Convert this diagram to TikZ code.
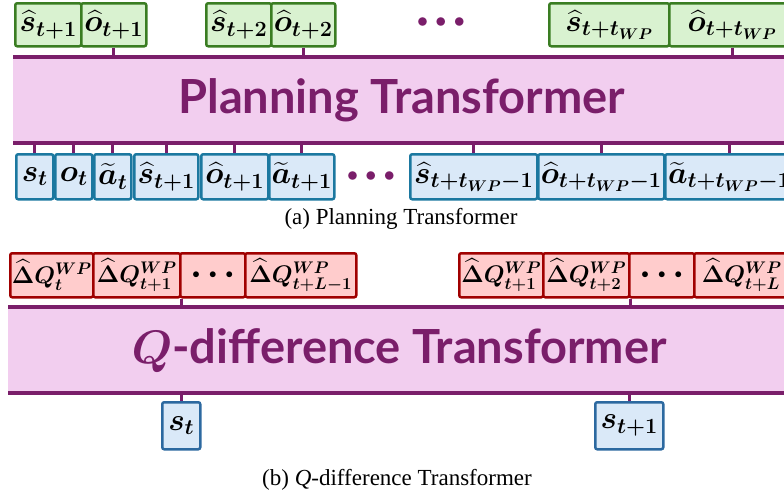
\RequirePackage{fix-cm}
\documentclass[tikz,border=0pt]{standalone}
\usepackage{amsmath,bm}
\usepackage{fontspec}
\newfontfamily\barsans{Lato}
\newfontfamily\capserif{Liberation Serif}
\definecolor{GreenFill}{HTML}{D9F2D0}
\definecolor{GreenLine}{HTML}{3A7D22}
\definecolor{BlueFill}{HTML}{DAE9F8}
\definecolor{BlueLine}{HTML}{1B78A0}
\definecolor{BlueDark}{HTML}{2C69A0}
\definecolor{RedFill}{HTML}{FFCCCC}
\definecolor{RedLine}{HTML}{A00000}
\definecolor{BarFill}{HTML}{F2CEEF}
\definecolor{BarLine}{HTML}{7A1E6A}
\newcommand\threedots[1][6mu]{\ensuremath{\mathord\bullet\mkern#1\mathord\bullet\mkern#1\mathord\bullet}}

\begin{document}
\begin{tikzpicture}[x=1pt,y=-1pt,
  cell/.style={rectangle,rounded corners=2pt,line width=2.5pt,inner sep=0pt,anchor=north west},
  gcell/.style={cell,draw=GreenLine,fill=GreenFill,minimum height=43pt,font=\fontsize{31}{31}\selectfont\boldmath},
  bcell/.style={cell,draw=BlueLine,fill=BlueFill,minimum height=45pt,font=\fontsize{31}{31}\selectfont\boldmath},
  rcell/.style={cell,draw=RedLine,fill=RedFill,minimum height=44pt,font=\fontsize{24}{24}\selectfont\boldmath},
  bar/.style={rectangle,fill=BarFill,inner sep=0pt,anchor=north west,minimum height=86pt,text=BarLine,font=\barsans\bfseries\fontsize{47}{47}\selectfont},
  barline/.style={draw=BarLine,line width=4pt},
  tick/.style={draw=BarLine,line width=3pt},
  dots/.style={text=BarLine,font=\fontsize{22}{22}\selectfont},
  caption/.style={font=\capserif\fontsize{23}{23}\selectfont}]
\useasboundingbox (0,0) rectangle (784,498);
\clip (0,0) rectangle (784,498);

\node[bar,minimum width=777pt] (planT) at (13,57) {\raisebox{-4pt}{Planning Transformer}};
\node[bar,minimum width=782pt] (qT) at (8,307) {\raisebox{-3pt}{$\bm{Q}$-difference Transformer}};

\node[gcell,minimum width=66pt] (g1) at (14,2) {$\widehat{s}_{t+1}$};
\node[gcell,minimum width=65pt] (g2) at (80,2) {$\widehat{o}_{t+1}$};
\node[gcell,minimum width=65pt] (g3) at (205,2) {$\widehat{s}_{t+2}$};
\node[gcell,minimum width=64pt] (g4) at (270,2) {$\widehat{o}_{t+2}$};
\node[gcell,minimum width=120pt] (g5) at (548,2) {$\widehat{s}_{t+t_{WP}}$};
\node[gcell,minimum width=126pt] (g6) at (668,2) {$\widehat{o}_{t+t_{WP}}$};
\node[dots] (dotsTop) at (441,23) {\threedots};

\node[bcell,minimum width=37pt] (b1) at (15,153) {$s_t$};
\node[bcell,minimum width=37pt] (b2) at (54,153) {$o_t$};
\node[bcell,minimum width=37pt] (b3) at (93,153) {$\widetilde{a}_t$};
\node[bcell,minimum width=64pt] (b4) at (133,153) {$\widehat{s}_{t+1}$};
\node[bcell,minimum width=67pt] (b5) at (200,153) {$\widehat{o}_{t+1}$};
\node[bcell,minimum width=65pt] (b6) at (268,153) {$\widetilde{a}_{t+1}$};
\node[dots] (dotsBot) at (371,177) {\threedots};
\node[bcell,minimum width=127pt] (b7) at (409,153) {$\widehat{s}_{t+t_{WP}-1}$};
\node[bcell,minimum width=126pt] (b8) at (537,153) {$\widehat{o}_{t+t_{WP}-1}$};
\node[bcell,minimum width=128pt] (b9) at (664,153) {$\widetilde{a}_{t+t_{WP}-1}$};

\draw[tick] (g2.south) -- (g2.south |- planT.north);
\draw[tick] (g4.south) -- (g4.south |- planT.north);
\draw[tick] (g6.south) -- (g6.south |- planT.north);
\foreach \b in {b1,b2,b3,b4,b5,b6,b7,b8,b9}
  \draw[tick] (\b.north) -- (\b.north |- planT.south);
\draw[barline] (planT.north west) -- (planT.north east);
\draw[barline] (planT.south west) -- (planT.south east);

\node[caption] (capA) at (401,219) {(a) Planning Transformer};

\node[rcell,minimum width=83pt] (r1) at (9,252) {$\widehat{\Delta}Q^{WP}_{t}$};
\node[rcell,minimum width=87pt] (r2) at (92,252) {$\widehat{\Delta}Q^{WP}_{t+1}$};
\node[rcell,minimum width=65pt,font=\fontsize{15}{15}\selectfont] (r3) at (179,252) {\threedots[11mu]};
\node[rcell,minimum width=111pt] (r4) at (244,252) {$\widehat{\Delta}Q^{WP}_{t+L-1}$};
\node[rcell,minimum width=84pt] (r5) at (458,252) {$\widehat{\Delta}Q^{WP}_{t+1}$};
\node[rcell,minimum width=86pt] (r6) at (542,252) {$\widehat{\Delta}Q^{WP}_{t+2}$};
\node[rcell,minimum width=65pt,font=\fontsize{15}{15}\selectfont] (r7) at (628,252) {\threedots[11mu]};
\node[rcell,minimum width=95pt] (r8) at (693,252) {$\widehat{\Delta}Q^{WP}_{t+L}$};

\node[bcell,draw=BlueDark,minimum width=38pt,minimum height=47pt] (s1) at (161,401) {$s_t$};
\node[bcell,draw=BlueDark,minimum width=68pt,minimum height=47pt] (s2) at (594,401) {$s_{t+1}$};

\draw[tick] (r2.south east) -- (r2.south east |- qT.north);
\draw[tick] (r6.south east) -- (r6.south east |- qT.north);
\draw[tick] (s1.north) -- (s1.north |- qT.south);
\draw[tick] (s2.north) -- (s2.north |- qT.south);
\draw[barline] (qT.north west) -- (qT.north east);
\draw[barline] (qT.south west) -- (qT.south east);

\node[caption] (capB) at (397,480) {(b) \textit{Q}-difference Transformer};
\end{tikzpicture}
\end{document}
